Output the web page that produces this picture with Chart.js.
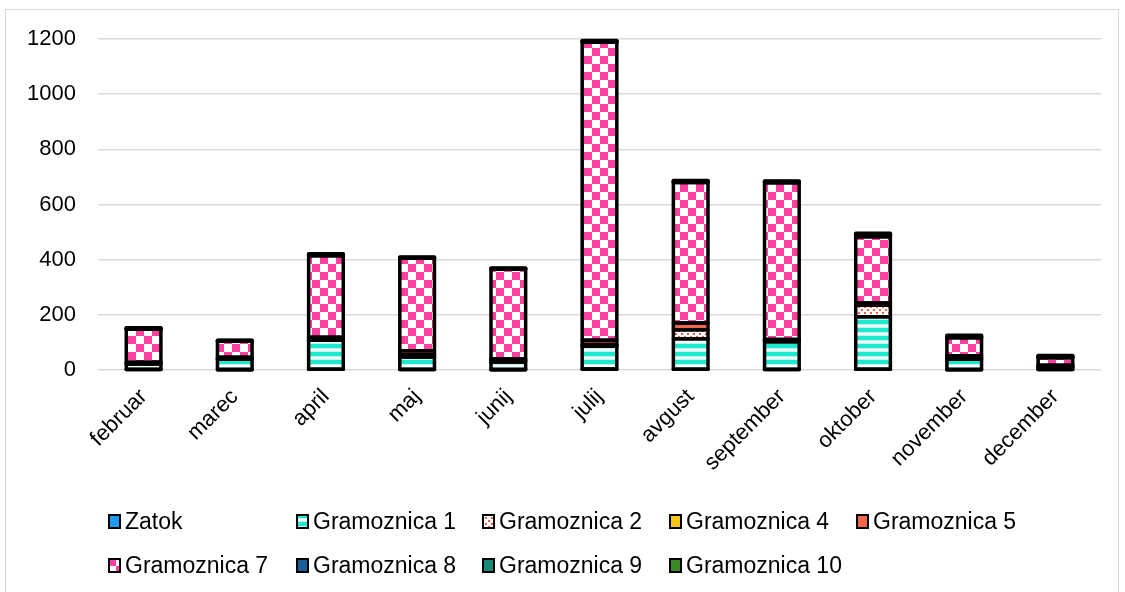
<!DOCTYPE html>
<html>
<head>
<meta charset="utf-8">
<script src="https://cdn.jsdelivr.net/npm/chart.js@4"></script>
<style>
  html, body { margin: 0; padding: 0; background: #fff; }
  #wrap { position: relative; width: 1125px; height: 592px; overflow: hidden; }
  #frame { position: absolute; left: 5px; top: 9px; width: 1114px; height: 620px; border: 1.5px solid #d9d9d9; box-sizing: border-box; }
  #chart { position: absolute; left: 0; top: 0; }
  #legend { position: absolute; left: 0; top: 0; font-family: "Liberation Sans", Arial, sans-serif; font-size: 23px; color: #000; }
  .item { position: absolute; display: flex; align-items: center; white-space: nowrap; }
  .item canvas { margin-right: 4px; }
</style>
</head>
<body>
<div id="wrap">
  <div id="frame"></div>
  <canvas id="chart" width="1125" height="592"></canvas>
  <div id="legend"></div>
</div>
<script>
// meseci
const months = ['februar', 'marec', 'april', 'maj', 'junij', 'julij', 'avgust', 'september', 'oktober', 'november', 'december'];

// vrednosti po lokacijah
const zatok = [2, 1, 3, 2, 1, 4, 3, 2, 3, 1, 2];
const gramoznica1 = [20, 38, 105, 45, 28, 82, 110, 100, 190, 38, 6];
const gramoznica2 = [3, 3, 5, 8, 5, 6, 33, 6, 42, 5, 4];
const gramoznica4 = [0, 0, 0, 0, 0, 0, 0, 0, 0, 0, 0];
const gramoznica5 = [3, 4, 6, 15, 6, 16, 24, 3, 8, 8, 5];
const gramoznica7 = [120, 58, 295, 335, 325, 1080, 510, 568, 240, 65, 27];
const gramoznica8 = [2, 2, 3, 2, 2, 3, 3, 2, 4, 3, 3];
const gramoznica9 = [1, 1, 2, 1, 1, 2, 2, 2, 4, 3, 3];
const gramoznica10 = [2, 1, 2, 2, 2, 2, 2, 2, 5, 3, 3];

const yTicks = [0, 200, 400, 600, 800, 1000, 1200];

// vzorci za polnila
function makePattern(kind, color) {
    const c = document.createElement('canvas');
    const g = c.getContext('2d');
    if (kind === 'stripes') {
        c.width = 8; c.height = 8;
        g.fillStyle = '#fff'; g.fillRect(0, 0, 8, 8);
        g.fillStyle = color; g.fillRect(0, 0, 8, 4);
        g.fillStyle = '#bdf6ee'; g.fillRect(0, 4, 8, 1); g.fillRect(0, 7, 8, 1);
    } else if (kind === 'dots') {
        c.width = 6; c.height = 6;
        g.fillStyle = '#fff'; g.fillRect(0, 0, 6, 6);
        g.fillStyle = color; g.fillRect(0, 0, 2, 2); g.fillRect(3, 3, 2, 2);
    } else if (kind === 'checker') {
        c.width = 16; c.height = 16;
        g.fillStyle = '#fff'; g.fillRect(0, 0, 16, 16);
        g.fillStyle = color; g.fillRect(0, 0, 8, 8); g.fillRect(8, 8, 8, 8);
    }
    return { canvas: c, pattern: document.createElement('canvas').getContext('2d').createPattern(c, 'repeat') };
}

const series = [
    { label: 'Zatok', data: zatok, fill: '#1e9bf0' },
    { label: 'Gramoznica 1', data: gramoznica1, fill: makePattern('stripes', '#1de9cf') },
    { label: 'Gramoznica 2', data: gramoznica2, fill: makePattern('dots', '#f4603c') },
    { label: 'Gramoznica 4', data: gramoznica4, fill: '#f5c518' },
    { label: 'Gramoznica 5', data: gramoznica5, fill: '#f4674b' },
    { label: 'Gramoznica 7', data: gramoznica7, fill: makePattern('checker', '#ff40a0') },
    { label: 'Gramoznica 8', data: gramoznica8, fill: '#1a5e99' },
    { label: 'Gramoznica 9', data: gramoznica9, fill: '#178a7a' },
    { label: 'Gramoznica 10', data: gramoznica10, fill: '#3a8a24' }
];

const datasets = series.map(s => ({
    label: s.label,
    data: s.data,
    backgroundColor: typeof s.fill === 'string' ? s.fill : s.fill.pattern,
    borderWidth: 0,
    categoryPercentage: 0.38,
    barPercentage: 1
}));

// črna obroba okoli vsakega segmenta, na robu (kot v Excelu)
const outlinePlugin = {
    id: 'outline',
    afterDatasetsDraw(chart) {
        const ctx = chart.ctx;
        ctx.save();
        ctx.strokeStyle = '#000';
        ctx.lineWidth = 3.5;
        ctx.lineJoin = 'round';
        chart.data.datasets.forEach((ds, i) => {
            chart.getDatasetMeta(i).data.forEach((bar, j) => {
                if (!ds.data[j]) return;
                const p = bar.getProps(['x', 'y', 'base', 'width']);
                ctx.strokeRect(p.x - p.width / 2, p.y, p.width, p.base - p.y);
            });
        });
        ctx.restore();
    }
};

const font = { family: '"Liberation Sans", Arial, sans-serif', size: 22 };

new Chart(document.getElementById('chart'), {
    type: 'bar',
    data: { labels: months, datasets: datasets },
    plugins: [outlinePlugin],
    options: {
        responsive: false,
        animation: false,
        layout: { padding: { left: 0, right: 24, top: 39, bottom: 100 } },
        plugins: { legend: { display: false }, tooltip: { enabled: false } },
        scales: {
            x: {
                stacked: true,
                grid: { display: false },
                border: { display: false },
                ticks: { color: '#000', font: font, minRotation: 45, maxRotation: 45, padding: 6 },
                afterFit: scale => { scale.height = 122; }
            },
            y: {
                stacked: true,
                min: 0,
                max: 1200,
                grid: { color: '#d9d9d9', lineWidth: 1.5, drawTicks: false },
                border: { display: false },
                afterBuildTicks: scale => { scale.ticks = yTicks.map(v => ({ value: v })); },
                ticks: { color: '#000', font: font, padding: 22, callback: v => String(v) },
                afterFit: scale => { scale.width = 98; }
            }
        }
    }
});

// legenda v dveh vrsticah
const legend = document.getElementById('legend');
const colX = [108, 296, 482, 669, 856];
series.forEach((s, i) => {
    const row = i < 5 ? 0 : 1;
    const col = i < 5 ? i : i - 5;
    const item = document.createElement('div');
    item.className = 'item';
    item.style.left = colX[col] + 'px';
    item.style.top = (row === 0 ? 508 : 552) + 'px';

    const sw = document.createElement('canvas');
    sw.width = 13; sw.height = 15;
    const g = sw.getContext('2d');
    g.fillStyle = '#000';
    g.fillRect(0, 0, 13, 15);
    g.fillStyle = typeof s.fill === 'string' ? s.fill : g.createPattern(s.fill.canvas, 'repeat');
    g.fillRect(2, 2, 9, 11);
    item.appendChild(sw);

    const txt = document.createElement('span');
    txt.textContent = s.label;
    item.appendChild(txt);
    legend.appendChild(item);
});
</script>
</body>
</html>
